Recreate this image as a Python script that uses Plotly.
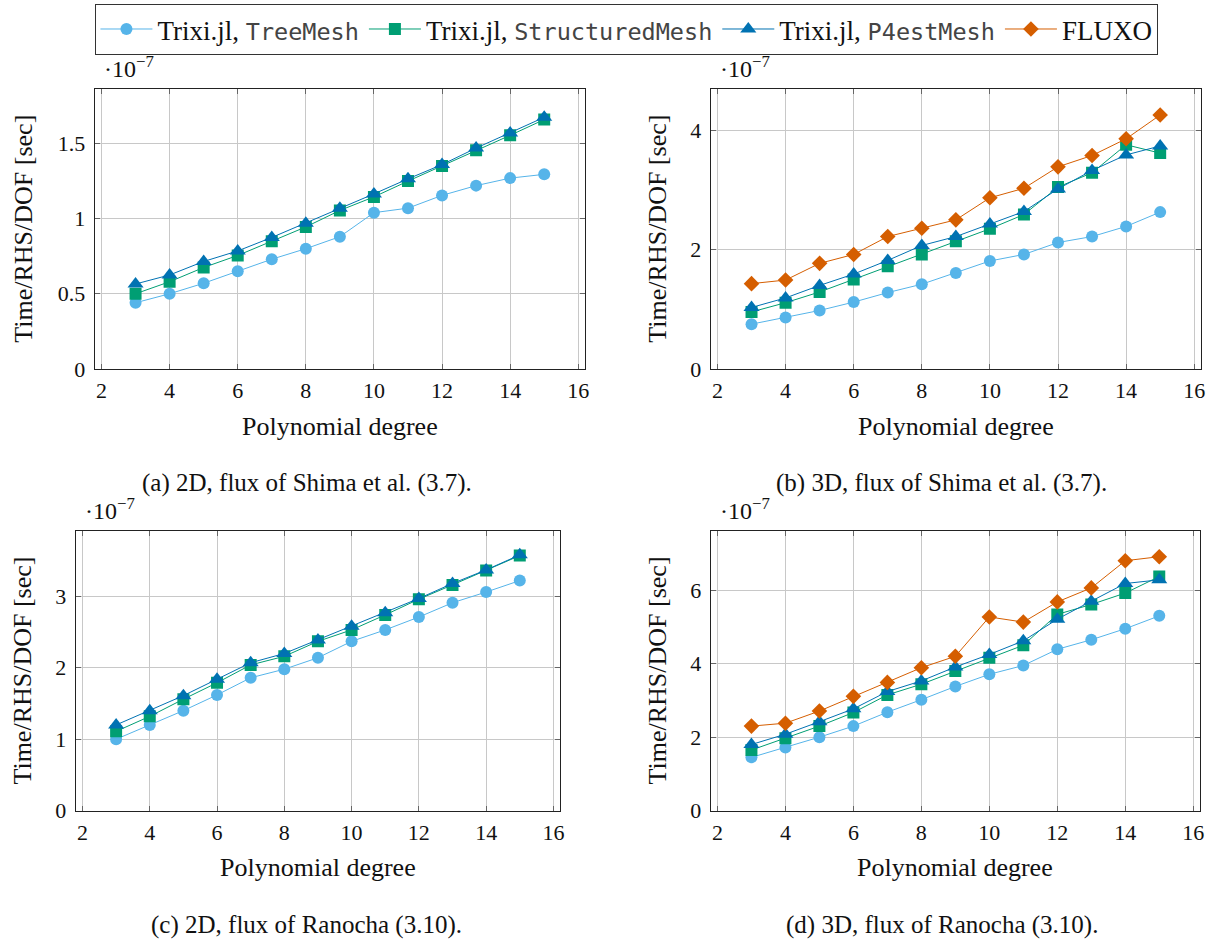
import plotly.graph_objects as go

W, H = 1216, 943

degrees = [3, 4, 5, 6, 7, 8, 9, 10, 11, 12, 13, 14, 15]

# (a) 2D, flux of Shima et al.
a_tree = [0.44, 0.50, 0.57, 0.65, 0.73, 0.80, 0.88, 1.04, 1.07, 1.155, 1.22, 1.27, 1.295]
a_struct = [0.50, 0.58, 0.675, 0.755, 0.85, 0.945, 1.055, 1.145, 1.25, 1.35, 1.455, 1.555, 1.66]
a_p4est = [0.565, 0.625, 0.715, 0.785, 0.875, 0.97, 1.07, 1.165, 1.265, 1.36, 1.47, 1.57, 1.675]

# (b) 3D, flux of Shima et al.
b_tree = [0.75, 0.86, 0.98, 1.12, 1.28, 1.42, 1.61, 1.81, 1.92, 2.12, 2.22, 2.39, 2.63]
b_struct = [0.955, 1.11, 1.29, 1.50, 1.72, 1.92, 2.14, 2.35, 2.59, 3.05, 3.29, 3.76, 3.62]
b_p4est = [1.03, 1.19, 1.40, 1.59, 1.82, 2.07, 2.22, 2.43, 2.64, 3.02, 3.33, 3.59, 3.74]
b_fluxo = [1.43, 1.49, 1.77, 1.92, 2.22, 2.36, 2.50, 2.87, 3.03, 3.39, 3.58, 3.86, 4.26]

# (c) 2D, flux of Ranocha
c_tree = [1.00, 1.20, 1.40, 1.62, 1.86, 1.98, 2.14, 2.37, 2.53, 2.71, 2.91, 3.06, 3.22]
c_struct = [1.11, 1.32, 1.56, 1.79, 2.04, 2.16, 2.37, 2.53, 2.74, 2.96, 3.16, 3.36, 3.57]
c_p4est = [1.20, 1.40, 1.61, 1.84, 2.07, 2.20, 2.39, 2.58, 2.77, 2.97, 3.18, 3.37, 3.58]

# (d) 3D, flux of Ranocha
d_tree = [1.45, 1.72, 2.00, 2.30, 2.68, 3.02, 3.38, 3.71, 3.95, 4.39, 4.65, 4.95, 5.30]
d_struct = [1.65, 1.97, 2.30, 2.67, 3.15, 3.44, 3.80, 4.16, 4.50, 5.34, 5.61, 5.92, 6.37]
d_p4est = [1.80, 2.08, 2.42, 2.77, 3.24, 3.53, 3.91, 4.25, 4.62, 5.21, 5.70, 6.18, 6.28]
d_fluxo = [2.30, 2.38, 2.71, 3.11, 3.49, 3.89, 4.20, 5.27, 5.13, 5.68, 6.06, 6.80, 6.91]

mono = 'font-family:\'DejaVu Sans Mono\';font-size:23.5px;color:#444'
series_names = [
    f'Trixi.jl, <span style="{mono}">TreeMesh</span>',
    f'Trixi.jl, <span style="{mono}">StructuredMesh</span>',
    f'Trixi.jl, <span style="{mono}">P4estMesh</span>',
    'FLUXO',
]
colors = ["#56B4E9", "#009E73", "#0072B2", "#D55E00"]
symbols = ["circle", "square", "triangle-up", "diamond"]
msizes = [12, 12, 14, 12]

captions = [
    "(a) 2D, flux of Shima et al. (3.7).",
    "(b) 3D, flux of Shima et al. (3.7).",
    "(c) 2D, flux of Ranocha (3.10).",
    "(d) 3D, flux of Ranocha (3.10).",
]
y_ranges = [[0, 1.865], [0, 4.70], [0, 3.92], [0, 7.62]]
y_dticks = [0.5, 2, 1, 2]

panels = [
    [a_tree, a_struct, a_p4est, None],
    [b_tree, b_struct, b_p4est, b_fluxo],
    [c_tree, c_struct, c_p4est, None],
    [d_tree, d_struct, d_p4est, d_fluxo],
]

# plot-area boxes in pixels: (left, right, top, bottom)
boxes = [(95, 587, 90, 374), (713, 1205, 90, 374), (76, 562, 538, 822), (713, 1204, 538, 822)]
ytitle_x = [24, 660, 23, 660]
cap_x = [308, 945, 308, 945]

def px(x):
    return x / W

def py(y):
    return 1 - y / H

serif = "Liberation Serif"
fig = go.Figure()
annotations = []
layout = {}

for p, (data, box) in enumerate(zip(panels, boxes)):
    ax = "" if p == 0 else str(p + 1)
    for s, vals in enumerate(data):
        if vals is None:
            continue
        fig.add_trace(go.Scatter(
            x=degrees, y=vals, mode="lines+markers",
            name=series_names[s], legendgroup=str(s),
            showlegend=(p == 1),
            line=dict(color=colors[s], width=1),
            marker=dict(symbol=symbols[s], size=msizes[s], color=colors[s],
                        line=dict(width=0)),
            xaxis="x" + ax, yaxis="y" + ax,
        ))
    l, r, t, b = box
    common = dict(showline=True, linecolor="#222", linewidth=1, mirror="ticks",
                  ticks="inside", ticklen=5, tickcolor="#666",
                  showgrid=True, gridcolor="#c8c8c8", gridwidth=1,
                  zeroline=False,
                  tickfont=dict(family=serif, size=22, color="#111"))
    layout["xaxis" + ax] = dict(common, domain=[px(l), px(r)], range=[1.8, 16.2],
                                 tickmode="linear", tick0=2, dtick=2,
                                 anchor="y" + ax, ticklabelstandoff=2)
    layout["yaxis" + ax] = dict(common, domain=[py(b), py(t)], range=y_ranges[p],
                                 tickmode="linear", tick0=0, dtick=y_dticks[p],
                                 anchor="x" + ax, ticklabelstandoff=4)
    # exponent label
    annotations.append(dict(text="·10<sup>−7</sup>", x=px(l + 7), y=py(t - 5),
                            xref="paper", yref="paper", xanchor="left", yanchor="bottom",
                            showarrow=False, font=dict(family=serif, size=24, color="#111")))
    # y title
    annotations.append(dict(text="Time/RHS/DOF [sec]", x=px(ytitle_x[p]), y=py((t + b) / 2),
                            xref="paper", yref="paper", xanchor="center", yanchor="middle",
                            textangle=-90, showarrow=False,
                            font=dict(family=serif, size=26, color="#111")))
    # x title
    annotations.append(dict(text="Polynomial degree", x=px((l + r) / 2), y=py(b + 58),
                            xref="paper", yref="paper", xanchor="center", yanchor="middle",
                            showarrow=False, font=dict(family=serif, size=26, color="#111")))
    # caption
    annotations.append(dict(text=captions[p], x=px(cap_x[p]), y=py(b + 116),
                            xref="paper", yref="paper", xanchor="center", yanchor="middle",
                            showarrow=False, font=dict(family=serif, size=25, color="#111")))

fig.update_layout(
    width=W, height=H,
    margin=dict(l=0, r=0, t=0, b=0),
    paper_bgcolor="white", plot_bgcolor="white",
    annotations=annotations,
    legend=dict(orientation="h", x=px(629), xanchor="center", y=py(4), yanchor="top",
                bordercolor="#333", borderwidth=1, bgcolor="white",
                font=dict(family=serif, size=27, color="#111"),
                itemwidth=52, tracegroupgap=0),
    **layout,
)

fig.write_html(
    "out.html",
    config={"displayModeBar": False},
    post_script="document.body.style.margin='0';document.body.style.overflow='hidden';",
)
